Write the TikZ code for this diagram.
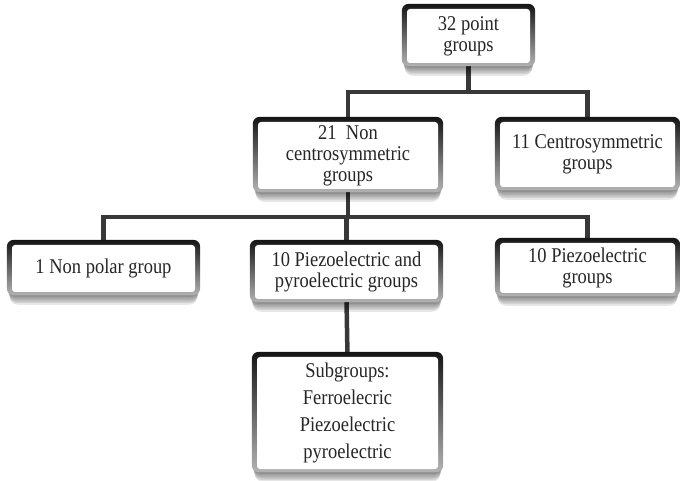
\documentclass[tikz,border=0pt]{standalone}
\usepackage{fontspec}
\setmainfont{Liberation Serif}[FakeStretch=0.88]
\usetikzlibrary{calc}
\pgfdeclarelayer{lines}
\pgfdeclarelayer{frames}
\pgfsetlayers{lines,frames,main}
\tikzset{
  gbox/.style={rectangle, rounded corners=3pt, fill=white, inner sep=0pt, align=center,
    font=\fontsize{21}{21}\selectfont, text=black!85},
  conn/.style={line width=4.5pt, draw=black!78}
}
\begin{document}
\begin{tikzpicture}[x=1pt,y=-1pt]
\useasboundingbox (0,0) rectangle (681,481);
\node[gbox, minimum width=123pt, minimum height=54pt] (top) at (468.5,36) {32 point\\groups};
\node[gbox, minimum width=180pt, minimum height=67pt] (n21) at (348,155.5) {21~~Non\\centrosymmetric\\groups};
\node[gbox, minimum width=175pt, minimum height=65pt] (c11) at (587.5,154.5) {11 Centrosymmetric\\groups};
\node[gbox, minimum width=183pt, minimum height=47pt] (np) at (103.5,268.5) {1 Non polar group};
\node[gbox, minimum width=183pt, minimum height=54pt] (pp) at (346.5,272) {10 Piezoelectric and\\pyroelectric groups};
\node[gbox, minimum width=175pt, minimum height=50pt] (pz) at (587.5,268) {10 Piezoelectric\\groups};
\node[gbox, minimum width=181pt, minimum height=112pt, font=\fontsize{21}{27}\selectfont] (sub) at (347.5,413) {Subgroups:\\Ferroelecric\\Piezoelectric\\pyroelectric};
\begin{pgfonlayer}{frames}
\foreach \n in {top,n21,c11,np,pp,pz,sub}{
  \foreach \k in {1,...,6}{
    \fill[black, opacity=0.09, rounded corners=8pt] ($(\n.north west)+(-5+\k*0.5,0)$) rectangle ($(\n.south east)+(5-\k*0.5,3+\k*1.6)$);
  }
  \shade[top color=black!92, bottom color=black!30, rounded corners=7pt] ($(\n.north west)+(-5,-5)$) rectangle ($(\n.south east)+(5,3)$);
}
\end{pgfonlayer}
\begin{pgfonlayer}{lines}
\coordinate (j1) at (468.5,92);
\coordinate (j2) at (348,217);
\draw[conn] (top.south) -- (j1);
\draw[conn] (n21.north) |- (j1) -| (c11.north);
\draw[conn] (n21.south) -- (j2);
\draw[conn] (np.north) |- (j2) -| (pz.north);
\draw[conn] (pp.north) -- (pp.north |- j2);
\draw[conn] (pp.south) -- (sub.north);
\end{pgfonlayer}
\end{tikzpicture}
\end{document}
